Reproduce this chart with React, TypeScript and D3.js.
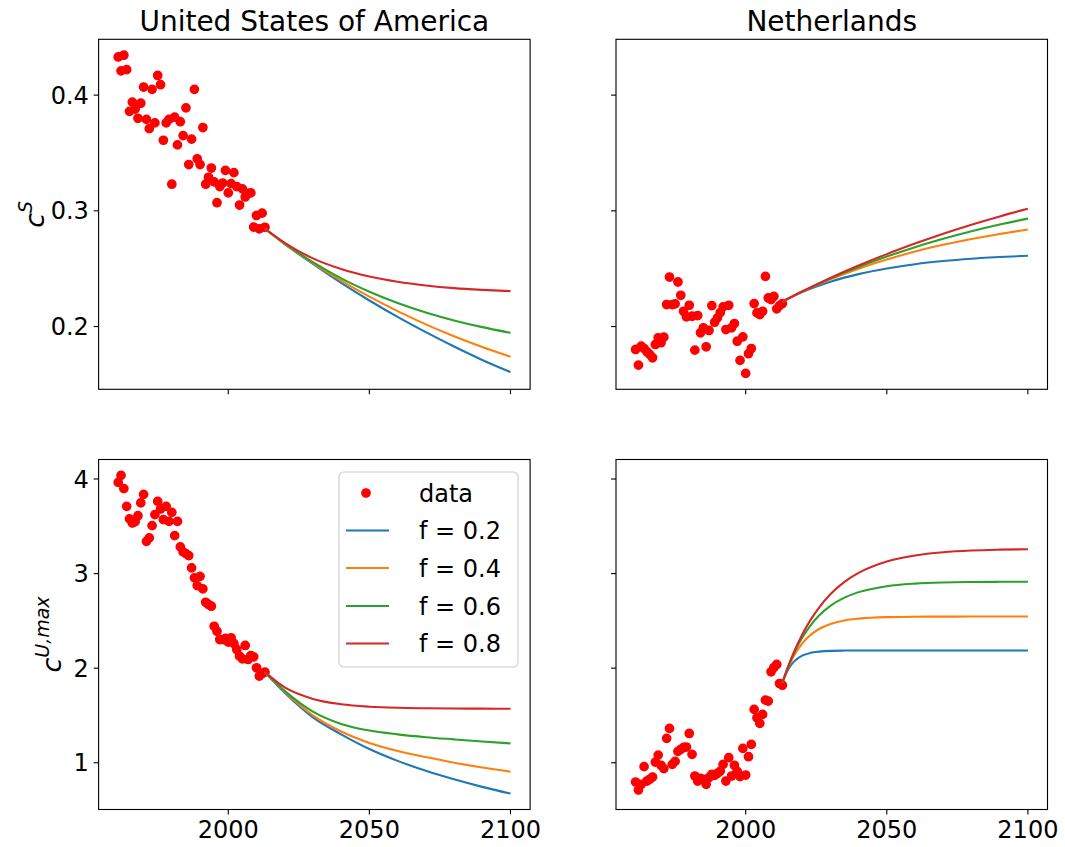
import React from 'react';
import * as d3 from 'd3';

// ---------- DATA ----------
const histYears = [
  1961, 1962, 1963, 1964, 1965, 1966, 1967, 1968, 1969, 1970,
  1971, 1972, 1973, 1974, 1975, 1976, 1977, 1978, 1979, 1980,
  1981, 1982, 1983, 1984, 1985, 1986, 1987, 1988, 1989, 1990,
  1991, 1992, 1993, 1994, 1995, 1996, 1997, 1998, 1999, 2000,
  2001, 2002, 2003, 2004, 2005, 2006, 2007, 2008, 2009, 2010,
  2011, 2012, 2013,
];

const usaCS = [
  0.433, 0.421, 0.4345, 0.422, 0.386, 0.394, 0.388, 0.380, 0.393, 0.407,
  0.379, 0.371, 0.405, 0.376, 0.417, 0.409, 0.361, 0.376, 0.379, 0.323,
  0.381, 0.357, 0.377, 0.365, 0.389, 0.340, 0.362, 0.405, 0.345, 0.340,
  0.372, 0.323, 0.329, 0.337, 0.325, 0.307, 0.321, 0.324, 0.335, 0.3155,
  0.3235, 0.333, 0.321, 0.305, 0.319, 0.312, 0.315, 0.3155, 0.286, 0.296,
  0.2845, 0.298, 0.2858,
];

const nlCS = [
  0.1802, 0.1666, 0.1830, 0.1810, 0.1782, 0.1759, 0.1730, 0.1845, 0.1903, 0.1860,
  0.1908, 0.2190, 0.2428, 0.2190, 0.2196, 0.2385, 0.2270, 0.2132, 0.2084, 0.2184,
  0.2089, 0.1796, 0.2095, 0.1946, 0.1989, 0.1825, 0.1966, 0.2181, 0.2037, 0.2075,
  0.2121, 0.2170, 0.1974, 0.2184, 0.1989, 0.2026, 0.1873, 0.1707, 0.1911, 0.1595,
  0.1765, 0.1810, 0.2198, 0.2118, 0.2103, 0.2132, 0.2434, 0.2247, 0.2233, 0.2261,
  0.2153, 0.2181, 0.2198,
];

const usaCU = [
  3.964, 4.038, 3.898, 3.711, 3.578, 3.535, 3.549, 3.612, 3.747, 3.837,
  3.341, 3.377, 3.507, 3.623, 3.763, 3.683, 3.570, 3.711, 3.552, 3.647,
  3.401, 3.552, 3.282, 3.229, 3.211, 3.190, 3.060, 2.955, 2.873, 2.971,
  2.838, 2.697, 2.673, 2.655, 2.443, 2.391, 2.303, 2.303, 2.314, 2.275,
  2.321, 2.261, 2.197, 2.127, 2.099, 2.240, 2.092, 2.134, 2.120, 2.004,
  1.916, 1.944, 1.958,
];

const nlCU = [
  0.796, 0.712, 0.772, 0.959, 0.807, 0.825, 0.849, 1.007, 1.081, 0.973,
  0.938, 1.258, 1.363, 0.983, 1.015, 1.120, 1.141, 1.163, 1.166, 1.310,
  1.089, 0.860, 0.807, 0.835, 0.825, 0.772, 0.843, 0.878, 0.867, 0.888,
  0.912, 0.983, 0.807, 1.054, 0.860, 0.973, 0.909, 0.853, 1.152, 0.870,
  1.064, 1.194, 1.564, 1.476, 1.416, 1.511, 1.662, 1.652, 1.962, 2.007,
  2.039, 1.838, 1.820,
];

const futureYears = [2013, 2020, 2030, 2040, 2050, 2060, 2070, 2080, 2090, 2100];
const futureYearsFast = [2013, 2015, 2017, 2020, 2023, 2026, 2030, 2035, 2040, 2050, 2060, 2070, 2080, 2090, 2100];

const usaCS_f02 = [0.2845, 0.2712, 0.2541, 0.2377, 0.2225, 0.2083, 0.1951, 0.1827, 0.1711, 0.1606];
const usaCS_f04 = [0.2845, 0.2715, 0.2549, 0.2396, 0.2258, 0.2133, 0.2019, 0.1916, 0.1823, 0.1739];
const usaCS_f06 = [0.2845, 0.2718, 0.2556, 0.2416, 0.2301, 0.2204, 0.2122, 0.2053, 0.1995, 0.1946];
const usaCS_f08 = [0.2845, 0.2724, 0.2589, 0.2497, 0.2432, 0.2387, 0.2355, 0.2332, 0.2317, 0.2306];

const nlCS_f02 = [0.2216, 0.2297, 0.2387, 0.2453, 0.2502, 0.2539, 0.2566, 0.2586, 0.2601, 0.2612];
const nlCS_f04 = [0.2216, 0.2301, 0.2408, 0.2500, 0.2579, 0.2648, 0.2706, 0.2757, 0.2800, 0.2838];
const nlCS_f06 = [0.2216, 0.2302, 0.2415, 0.2515, 0.2605, 0.2686, 0.2758, 0.2823, 0.2881, 0.2933];
const nlCS_f08 = [0.2216, 0.2303, 0.2420, 0.2527, 0.2626, 0.2717, 0.2802, 0.2880, 0.2952, 0.3018];

const usaCU_f02 = [1.958, 1.74, 1.48, 1.30, 1.145, 1.02, 0.915, 0.825, 0.745, 0.674];
const usaCU_f04 = [1.958, 1.75, 1.50, 1.33, 1.21, 1.125, 1.06, 1.001, 0.95, 0.906];
const usaCU_f06 = [1.958, 1.76, 1.54, 1.41, 1.34, 1.30, 1.27, 1.247, 1.225, 1.205];
const usaCU_f08 = [1.958, 1.796, 1.675, 1.619, 1.593, 1.581, 1.576, 1.573, 1.572, 1.571];

const nlCU_f02 = [1.846, 1.984, 2.066, 2.132, 2.162, 2.175, 2.183, 2.186, 2.187, 2.187, 2.187, 2.187, 2.187, 2.187, 2.187];
const nlCU_f04 = [1.846, 2.005, 2.127, 2.261, 2.352, 2.414, 2.467, 2.505, 2.524, 2.540, 2.544, 2.545, 2.546, 2.546, 2.546];
const nlCU_f06 = [1.846, 2.011, 2.151, 2.321, 2.453, 2.556, 2.659, 2.746, 2.804, 2.867, 2.894, 2.906, 2.911, 2.913, 2.914];
const nlCU_f08 = [1.846, 2.015, 2.163, 2.354, 2.511, 2.641, 2.781, 2.912, 3.007, 3.128, 3.192, 3.226, 3.244, 3.253, 3.258];

const fLabels = ['f = 0.2', 'f = 0.4', 'f = 0.6', 'f = 0.8'];
const lineColors = ['#1f77b4', '#ff7f0e', '#2ca02c', '#d62728'];
const titles = ['United States of America', 'Netherlands'];
const xTicks = [2000, 2050, 2100];
const topYTicks = [0.2, 0.3, 0.4];
const bottomYTicks = [1, 2, 3, 4];

// ---------- LAYOUT ----------
const W = 1065;
const H = 847;
const FS = 24;
const FONT = "'DejaVu Sans', sans-serif";
const colX = [98.6, 616];
const rowY = [39.3, 459.5];
const PW = 431.5;
const PH = 350;
const TICK = 4.9;
const PAD = 4.9;

function padded(vals: number[]): [number, number] {
  const [lo, hi] = d3.extent(vals) as [number, number];
  const m = (hi - lo) * 0.05;
  return [lo - m, hi + m];
}

const xDomain = padded([histYears[0], 2100]);
const topDomain = padded([
  ...usaCS, ...nlCS,
  ...usaCS_f02, ...usaCS_f04, ...usaCS_f06, ...usaCS_f08,
  ...nlCS_f02, ...nlCS_f04, ...nlCS_f06, ...nlCS_f08,
]);
const bottomDomain = padded([
  ...usaCU, ...nlCU,
  ...usaCU_f02, ...usaCU_f04, ...usaCU_f06, ...usaCU_f08,
  ...nlCU_f02, ...nlCU_f04, ...nlCU_f06, ...nlCU_f08,
]);

type PanelProps = {
  x0: number; y0: number;
  yDomain: [number, number];
  yTicks: number[];
  yFmt: (v: number) => string;
  showYLabels: boolean;
  showXLabels: boolean;
  hist: number[];
  futYears: number[];
  fut: number[][];
  title?: string;
};

function Panel(p: PanelProps) {
  const x = d3.scaleLinear().domain(xDomain).range([p.x0, p.x0 + PW]);
  const y = d3.scaleLinear().domain(p.yDomain).range([p.y0 + PH, p.y0]);
  const line = d3.line<number>()
    .x((_, i) => x(p.futYears[i]))
    .y((d) => y(d))
    .curve(d3.curveMonotoneX);
  const yb = p.y0 + PH;
  return (
    <g>
      {p.hist.map((v, i) => (
        <circle key={'d' + i} cx={x(histYears[i])} cy={y(v)} r={4.17}
          fill="#ff0000" stroke="#ff0000" strokeWidth={1.39} />
      ))}
      {p.fut.map((s, k) => (
        <path key={'l' + k} d={line(s) || ''} fill="none" stroke={lineColors[k]} strokeWidth={2.08} />
      ))}
      <rect x={p.x0} y={p.y0} width={PW} height={PH} fill="none" stroke="#000" strokeWidth={1.11} />
      {xTicks.map((t) => (
        <g key={'xt' + t}>
          <line x1={x(t)} x2={x(t)} y1={yb} y2={yb + TICK} stroke="#000" strokeWidth={1.11} />
          {p.showXLabels && (
            <text x={x(t)} y={yb + TICK + PAD + 0.76 * FS} textAnchor="middle" fontSize={FS} fontFamily={FONT}>{t}</text>
          )}
        </g>
      ))}
      {p.yTicks.map((t) => (
        <g key={'yt' + t}>
          <line x1={p.x0 - TICK} x2={p.x0} y1={y(t)} y2={y(t)} stroke="#000" strokeWidth={1.11} />
          {p.showYLabels && (
            <text x={p.x0 - TICK - PAD} y={y(t)} dy="0.36em" textAnchor="end" fontSize={FS} fontFamily={FONT}>{p.yFmt(t)}</text>
          )}
        </g>
      ))}
      {p.title && (
        <text x={p.x0 + PW / 2} y={p.y0 - 8.3} textAnchor="middle" fontSize={28} fontFamily={FONT}>{p.title}</text>
      )}
    </g>
  );
}

function Legend() {
  const bx = 339, by = 472, bw = 179, bh = 195;
  const rowCy = [493, 530.5, 568, 606, 643.5];
  const hx0 = 346, hx1 = 389, tx = 419;
  return (
    <g>
      <rect x={bx} y={by} width={bw} height={bh} rx={5} ry={5} fill="#fff" fillOpacity={0.8} stroke="#cccccc" strokeWidth={1.11} />
      <circle cx={366} cy={rowCy[0]} r={4.17} fill="#ff0000" stroke="#ff0000" strokeWidth={1.39} />
      <text x={tx} y={rowCy[0]} dy="0.36em" fontSize={FS} fontFamily={FONT}>data</text>
      {fLabels.map((l, i) => (
        <g key={l}>
          <line x1={hx0} x2={hx1} y1={rowCy[i + 1]} y2={rowCy[i + 1]} stroke={lineColors[i]} strokeWidth={2.08} />
          <text x={tx} y={rowCy[i + 1]} dy="0.36em" fontSize={FS} fontFamily={FONT}>{l}</text>
        </g>
      ))}
    </g>
  );
}

export default function App() {
  const fmtTop = d3.format('.1f');
  const fmtBottom = d3.format('d');
  return (
    <svg width={W} height={H} viewBox={`0 0 ${W} ${H}`}
      style={{ position: 'absolute', left: 0, top: 0, background: '#fff' }}>
      <rect x={0} y={0} width={W} height={H} fill="#fff" />
      <Panel x0={colX[0]} y0={rowY[0]} yDomain={topDomain} yTicks={topYTicks} yFmt={fmtTop}
        showYLabels={true} showXLabels={false} hist={usaCS} futYears={futureYears}
        fut={[usaCS_f02, usaCS_f04, usaCS_f06, usaCS_f08]} title={titles[0]} />
      <Panel x0={colX[1]} y0={rowY[0]} yDomain={topDomain} yTicks={topYTicks} yFmt={fmtTop}
        showYLabels={false} showXLabels={false} hist={nlCS} futYears={futureYears}
        fut={[nlCS_f02, nlCS_f04, nlCS_f06, nlCS_f08]} title={titles[1]} />
      <Panel x0={colX[0]} y0={rowY[1]} yDomain={bottomDomain} yTicks={bottomYTicks} yFmt={fmtBottom}
        showYLabels={true} showXLabels={true} hist={usaCU} futYears={futureYears}
        fut={[usaCU_f02, usaCU_f04, usaCU_f06, usaCU_f08]} />
      <Panel x0={colX[1]} y0={rowY[1]} yDomain={bottomDomain} yTicks={bottomYTicks} yFmt={fmtBottom}
        showYLabels={false} showXLabels={true} hist={nlCU} futYears={futureYearsFast}
        fut={[nlCU_f02, nlCU_f04, nlCU_f06, nlCU_f08]} />
      <Legend />
      <text transform={`translate(44, ${rowY[0] + PH / 2}) rotate(-90)`} textAnchor="middle" fontSize={27} fontFamily={FONT}>
        <tspan fontStyle="italic">c</tspan>
        <tspan fontStyle="italic" fontSize={19} dy={-12}>S</tspan>
      </text>
      <text transform={`translate(61, ${rowY[1] + PH / 2}) rotate(-90)`} textAnchor="middle" fontSize={27} fontFamily={FONT}>
        <tspan fontStyle="italic">c</tspan>
        <tspan fontStyle="italic" fontSize={19} dy={-12}>U,max</tspan>
      </text>
    </svg>
  );
}
